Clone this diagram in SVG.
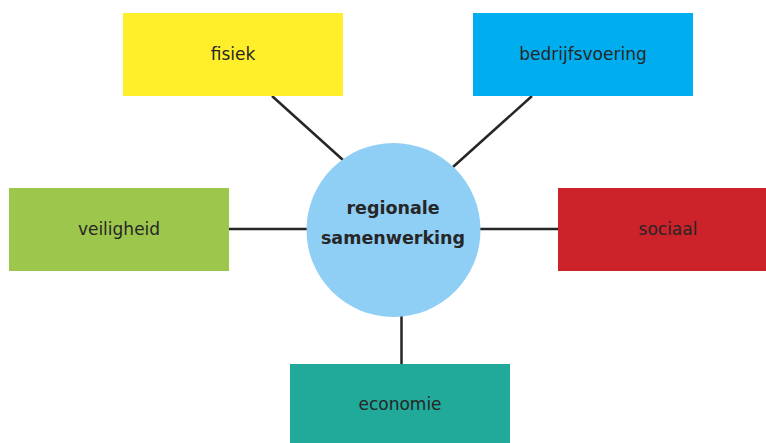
<svg xmlns="http://www.w3.org/2000/svg" width="766" height="443" viewBox="0 0 766 443">
<style>
.lbl{font-family:"DejaVu Sans",Verdana,sans-serif;font-size:17px;fill:#262626;text-anchor:middle}
.ctr{font-family:"DejaVu Sans",Verdana,sans-serif;font-size:17.5px;font-weight:bold;fill:#262626;text-anchor:middle}
.conn{stroke:#262626;stroke-width:2.5;fill:none}
</style>
<rect width="766" height="443" fill="#ffffff"/>
<g id="connectors">
<line class="conn" x1="272" y1="96" x2="343" y2="160"/>
<line class="conn" x1="532" y1="96" x2="453" y2="167"/>
<line class="conn" x1="229" y1="229" x2="308" y2="229"/>
<line class="conn" x1="479" y1="229" x2="558" y2="229"/>
<line class="conn" x1="401.5" y1="316" x2="401.5" y2="364"/>
</g>
<g id="center">
<circle cx="393.5" cy="230" r="87" fill="#8FCFF5"/>
<text class="ctr" x="393" y="214">regionale</text>
<text class="ctr" x="393" y="244">samenwerking</text>
</g>
<g id="fisiek">
<rect x="123" y="13" width="220" height="83" fill="#FFEF2A"/>
<text class="lbl" x="233" y="60">fisiek</text>
</g>
<g id="bedrijfsvoering">
<rect x="473" y="13" width="220" height="83" fill="#00AEEF"/>
<text class="lbl" x="583" y="60">bedrijfsvoering</text>
</g>
<g id="veiligheid">
<rect x="9" y="188" width="220" height="83" fill="#9DC64C"/>
<text class="lbl" x="119" y="235">veiligheid</text>
</g>
<g id="sociaal">
<rect x="558" y="188" width="220" height="83" fill="#CC2229"/>
<text class="lbl" x="668" y="235">sociaal</text>
</g>
<g id="economie">
<rect x="290" y="364" width="220" height="83" fill="#21A99A"/>
<text class="lbl" x="400" y="410">economie</text>
</g>
</svg>
